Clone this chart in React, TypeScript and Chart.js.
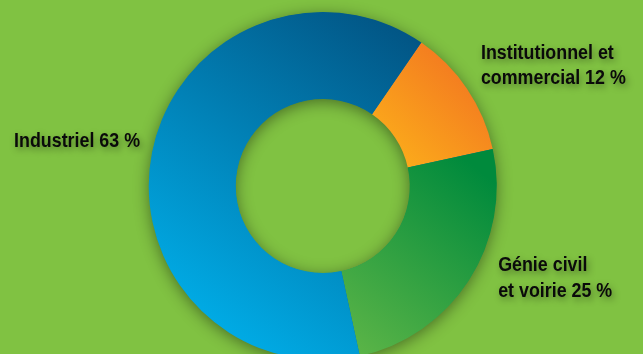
import React, { useEffect, useRef } from "react";
import { Chart, registerables } from "chart.js";

Chart.register(...registerables);

const categories = ["Institutionnel et commercial", "Génie civil et voirie", "Industriel"];
const values = [12, 25, 63];
const labelLines = [["Institutionnel et", "commercial 12 %"], ["Génie civil", "et voirie 25 %"], ["Industriel 63 %"]];
const gradientStops = [
  ["#f37a20", "#fba81b"],
  ["#008a3c", "#5cb547"],
  ["#02507f", "#00b3ee"],
];
const BG = "#80c242";
const FONT = 'bold 21px "Liberation Sans", Arial, sans-serif';
const SQUEEZE = 0.85;

export default function App() {
  const ref = useRef<HTMLCanvasElement | null>(null);
  useEffect(() => {
    document.body.style.margin = "0";
    const canvas = ref.current!;
    const grad = (c: any) => {
      const chart = c.chart;
      const area = chart.chartArea;
      const i = c.dataIndex;
      if (!area) return gradientStops[i][1];
      const cx = (area.left + area.right) / 2;
      const cy = (area.top + area.bottom) / 2;
      const R = Math.min(area.right - area.left, area.bottom - area.top) / 2;
      let g;
      if (i === 0) g = chart.ctx.createLinearGradient(cx + 0.85 * R, cy - 0.65 * R, cx + 0.42 * R, cy - 0.2 * R);
      else if (i === 1) g = chart.ctx.createLinearGradient(cx + 0.95 * R, cy - 0.05 * R, cx + 0.15 * R, cy + 0.95 * R);
      else g = chart.ctx.createLinearGradient(cx + 0.6 * R, cy - 0.95 * R, cx - 0.75 * R, cy + 0.95 * R);
      g.addColorStop(0, gradientStops[i][0]);
      g.addColorStop(1, gradientStops[i][1]);
      return g;
    };
    const ringShadow = {
      id: "ringShadow",
      beforeDatasetsDraw(chart: any) {
        const arc: any = chart.getDatasetMeta(0).data[0];
        if (!arc) return;
        const ctx = chart.ctx;
        ctx.save();
        ctx.shadowColor = "rgba(0,0,0,0.45)";
        ctx.shadowBlur = 16;
        ctx.shadowOffsetY = 3;
        ctx.fillStyle = "#0a6aa0";
        ctx.beginPath();
        ctx.arc(arc.x, arc.y, arc.outerRadius - 0.5, 0, Math.PI * 2);
        ctx.arc(arc.x, arc.y, arc.innerRadius + 0.5, 0, Math.PI * 2, true);
        ctx.fill();
        ctx.restore();
      },
    };
    const labelsPlugin = {
      id: "sliceLabels",
      afterDraw(chart: any) {
        const arcs: any[] = chart.getDatasetMeta(0).data;
        const ctx = chart.ctx;
        const lh = 25.5;
        arcs.forEach((arc, i) => {
          const R = arc.outerRadius;
          const lines = labelLines[i];
          let x: number, y: number, align: CanvasTextAlign;
          if (i === 0) { x = arc.x + 0.909 * R; y = arc.y - 0.731 * R; align = "left"; }
          else if (i === 1) { x = arc.x + 1.008 * R; y = arc.y + 0.491 * R; align = "left"; }
          else { x = arc.x - 1.05 * R; y = arc.y - 0.225 * R; align = "right"; }
          ctx.save();
          ctx.translate(x, y);
          ctx.scale(SQUEEZE, 1);
          ctx.font = FONT;
          ctx.fillStyle = "#0a0a0a";
          ctx.textBaseline = "alphabetic";
          ctx.textAlign = align;
          ctx.shadowColor = "rgba(0,0,0,0.4)";
          ctx.shadowBlur = 7;
          ctx.shadowOffsetX = 2;
          ctx.shadowOffsetY = 3;
          lines.forEach((t, k) => ctx.fillText(t, 0, k * lh));
          ctx.restore();
        });
      },
    };
    const chart = new Chart(canvas, {
      type: "doughnut",
      data: {
        labels: categories,
        datasets: [{ data: values, backgroundColor: grad as any, borderWidth: 0, hoverOffset: 0, offset: 0 }],
      },
      options: {
        animation: false,
        responsive: false,
        rotation: 34.5,
        cutout: "50%",
        layout: { padding: { top: 12, bottom: 40, left: 148.5, right: 146 } },
        plugins: { legend: { display: false }, tooltip: { enabled: false } },
        events: [],
      },
      plugins: [ringShadow, labelsPlugin],
    });
    return () => chart.destroy();
  }, []);
  return (
    <div style={{ width: 643, height: 354, overflow: "hidden", background: BG, position: "relative" }}>
      <canvas ref={ref} width={643} height={400} style={{ display: "block" }} />
    </div>
  );
}
